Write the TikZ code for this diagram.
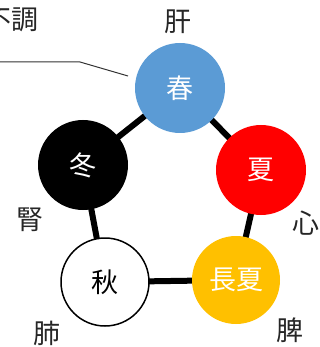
\documentclass[tikz,border=0pt]{standalone}
\usepackage{fontspec}
\usetikzlibrary{backgrounds}
\newfontfamily\cjk{Noto Sans CJK JP}
\definecolor{springblue}{HTML}{5B9BD5}
\definecolor{summerred}{HTML}{FF0000}
\definecolor{latesummer}{HTML}{FFC000}
\begin{document}
\begin{tikzpicture}[x=1pt,y=-1pt,
  season/.style={circle,minimum size=90pt,inner sep=0pt,font=\cjk\fontsize{27}{27}\selectfont},
  organ/.style={inner sep=0pt,font=\cjk\fontsize{27}{27}\selectfont,text=black!85},
  link/.style={line width=6pt,black}]
\useasboundingbox (0,0) rectangle (320,347);
\node[organ] (fuchou) at (11,20) {不調};
\node[season,fill=springblue,text=white] (haru) at (180,88) {春};
\node[season,fill=summerred,text=white] (natsu) at (261,170) {夏};
\node[season,fill=latesummer,text=white,minimum size=88pt] (doyou) at (236,280) {長夏};
\node[season,fill=white,draw=black,line width=1.5pt,text=black,minimum size=88pt] (aki) at (105,282) {秋};
\node[season,fill=black,text=white] (fuyu) at (83,165) {冬};
\begin{scope}[on background layer]
\draw[link] (haru.center) -- (natsu.center) -- (doyou.center) -- (aki.center) -- (fuyu.center) -- (haru.center);
\end{scope}
\node[organ] (kan) at (178,22) {肝};
\node[organ] (shin) at (306,223) {心};
\node[organ] (hi) at (290,330) {脾};
\node[organ] (hai) at (47,333) {肺};
\node[organ] (jin) at (30,220) {腎};
\coordinate (lstart) at (0,62);
\coordinate (lbend) at (80,62);
\coordinate (lend) at (128,76);
\draw[line width=1pt,black!80] (lstart) -- (lbend) -- (lend);
\end{tikzpicture}
\end{document}
